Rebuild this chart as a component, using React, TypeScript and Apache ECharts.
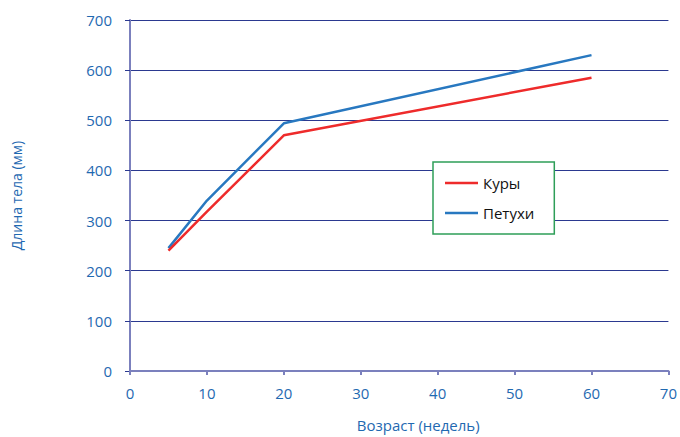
import React, { useEffect, useRef } from "react";
import * as echarts from "echarts";

// Age in weeks and body length (mm)
const weeks = [5, 10, 20, 60];
const hens = [240, 318, 470, 585];
const roosters = [245, 340, 494, 630];
const seriesNames = ["Куры", "Петухи"];
const xTicks = [0, 10, 20, 30, 40, 50, 60, 70];
const yTicks = [0, 100, 200, 300, 400, 500, 600, 700];

const TEXT_BLUE = "#1f69b1";
const FONT = "'Open Sans', sans-serif";

export default function App() {
  const ref = useRef<HTMLDivElement>(null);

  useEffect(() => {
    if (!ref.current) return;
    const chart = echarts.init(ref.current, undefined, { renderer: "svg" });
    const pairs = (ys: number[]) => weeks.map((w, i) => [w, ys[i]]);
    chart.setOption({
      animation: false,
      backgroundColor: "#ffffff",
      grid: { left: 130, right: 11, top: 20, bottom: 64 },
      legend: {
        orient: "vertical",
        left: 433,
        top: 162,
        data: seriesNames,
        icon: "rect",
        itemWidth: 33,
        itemHeight: 2.5,
        itemGap: 10,
        padding: [11, 20, 11, 12],
        borderColor: "#2e9e58",
        borderWidth: 1.5,
        backgroundColor: "#ffffff",
        textStyle: {
          color: "#111111",
          fontSize: 15,
          fontFamily: FONT,
          lineHeight: 20,
        },
      },
      xAxis: {
        type: "value",
        min: xTicks[0],
        max: xTicks[xTicks.length - 1],
        interval: 10,
        name: "Возраст (недель)",
        nameLocation: "middle",
        nameGap: 46,
        nameTextStyle: {
          color: TEXT_BLUE,
          fontSize: 15,
          fontFamily: FONT,
          padding: [0, 0, 0, 38],
        },
        axisLine: { show: true, lineStyle: { color: "#7b80bd", width: 2 } },
        axisTick: { show: true, length: 4, lineStyle: { color: "#7b80bd", width: 2 } },
        axisLabel: { color: TEXT_BLUE, fontSize: 15, fontFamily: FONT, margin: 14 },
        splitLine: { show: false },
      },
      yAxis: {
        type: "value",
        min: yTicks[0],
        max: yTicks[yTicks.length - 1],
        interval: 100,
        name: "Длина тела (мм)",
        nameLocation: "middle",
        nameRotate: 90,
        nameGap: 107,
        nameTextStyle: { color: TEXT_BLUE, fontSize: 14, fontFamily: FONT },
        axisLine: { show: true, lineStyle: { color: "#7b80bd", width: 2 } },
        axisTick: { show: true, length: 5, lineStyle: { color: "#2b3990", width: 1 } },
        axisLabel: { color: TEXT_BLUE, fontSize: 15, fontFamily: FONT, margin: 18 },
        splitLine: { show: true, lineStyle: { color: "#2b3990", width: 1 } },
      },
      series: [
        {
          name: seriesNames[0],
          type: "line",
          data: pairs(hens),
          symbol: "none",
          lineStyle: { color: "#ee2b2b", width: 2.5 },
          itemStyle: { color: "#ee2b2b" },
          z: 3,
        },
        {
          name: seriesNames[1],
          type: "line",
          data: pairs(roosters),
          symbol: "none",
          lineStyle: { color: "#2878c0", width: 2.5 },
          itemStyle: { color: "#2878c0" },
          z: 2,
        },
      ],
    });
    return () => chart.dispose();
  }, []);

  return (
    <div
      ref={ref}
      style={{ position: "fixed", left: 0, top: 0, width: 680, height: 437 }}
    />
  );
}
